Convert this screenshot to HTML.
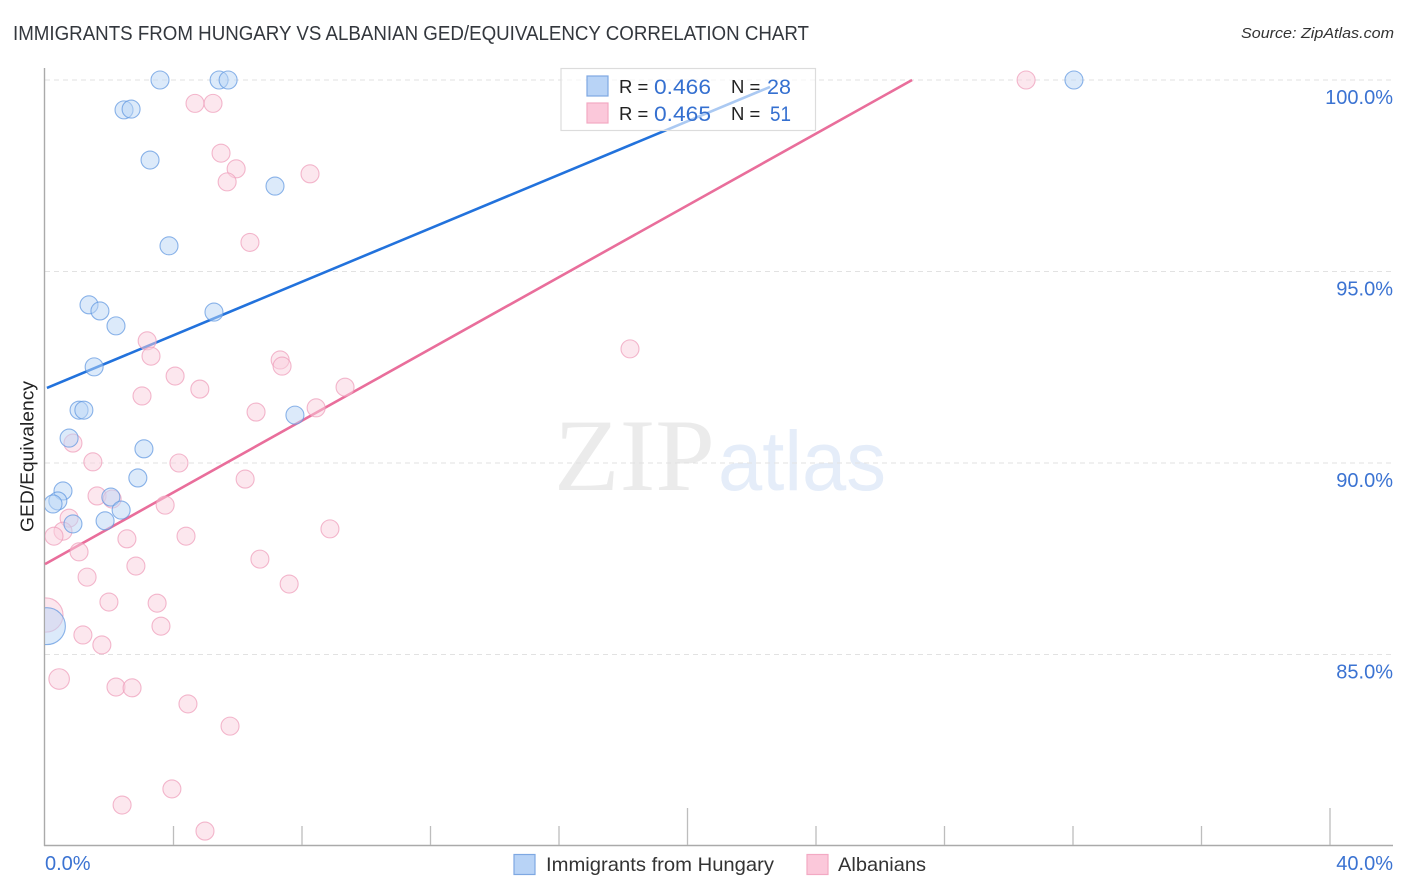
<!DOCTYPE html>
<html lang="en">
<head>
<meta charset="utf-8">
<title>Immigrants from Hungary vs Albanian GED/Equivalency Correlation Chart</title>
<style>
  html, body { margin: 0; padding: 0; background: #fff; }
  body { width: 1406px; height: 892px; overflow: hidden; }
  svg { display: block; font-family: "Liberation Sans", sans-serif; }
</style>
</head>
<body>
<svg id="chart" xmlns="http://www.w3.org/2000/svg" width="1406" height="892" viewBox="0 0 1406 892">
  <rect x="0" y="0" width="1406" height="892" fill="#ffffff"/>
  <text x="13" y="40" font-size="20" fill="#33373d" textLength="796" lengthAdjust="spacingAndGlyphs">IMMIGRANTS FROM HUNGARY VS ALBANIAN GED/EQUIVALENCY CORRELATION CHART</text>
  <text x="1394" y="38" font-size="15" font-style="italic" fill="#333" text-anchor="end" textLength="153" lengthAdjust="spacingAndGlyphs">Source: ZipAtlas.com</text>

  <g>
    <text x="554" y="490" font-family="'Liberation Serif', serif" font-size="103" fill="#ebebeb" textLength="161" lengthAdjust="spacingAndGlyphs">ZIP</text>
    <text x="718" y="490" font-size="84" fill="#e5edf9" textLength="168" lengthAdjust="spacingAndGlyphs">atlas</text>
  </g>

  <defs>
    <clipPath id="plot-clip"><rect x="45" y="60" width="1350" height="785"/></clipPath>
  </defs>
  <g id="grid"></g>
  <g id="axes"></g>
  <g id="trends"></g>
  <g id="points" clip-path="url(#plot-clip)"></g>

  <rect x="561" y="68.5" width="254.5" height="62" fill="#ffffff" fill-opacity="0.62" stroke="#dcdcdc" stroke-width="1.2"/>
  <g font-size="20">
    <rect x="587" y="76" width="21" height="20" fill="#b8d3f6" stroke="#7ea8e2" stroke-width="1.2"/>
    <rect x="587" y="103" width="21" height="20" fill="#fbc8da" stroke="#f3a9c3" stroke-width="1.2"/>
    <text x="619" y="93" font-size="18.5" fill="#222">R =</text>
    <text x="654" y="94" font-size="21" fill="#3570d0" textLength="57" lengthAdjust="spacingAndGlyphs">0.466</text>
    <text x="731" y="93" font-size="18.5" fill="#222">N =</text>
    <text x="767" y="94" font-size="21" fill="#3570d0" textLength="24" lengthAdjust="spacingAndGlyphs">28</text>
    <text x="619" y="120" font-size="18.5" fill="#222">R =</text>
    <text x="654" y="121" font-size="21" fill="#3570d0" textLength="57" lengthAdjust="spacingAndGlyphs">0.465</text>
    <text x="731" y="120" font-size="18.5" fill="#222">N =</text>
    <text x="770" y="121" font-size="21" fill="#3570d0" textLength="21" lengthAdjust="spacingAndGlyphs">51</text>
  </g>

  <text transform="translate(33.5,532) rotate(-90)" font-size="18.5" fill="#222" textLength="151" lengthAdjust="spacingAndGlyphs">GED/Equivalency</text>

  <g>
    <g>
      <rect x="514" y="854.5" width="21" height="20" fill="#b8d3f6" stroke="#7ea8e2" stroke-width="1.2"/>
      <text x="546" y="871" font-size="19.5" fill="#333" textLength="228" lengthAdjust="spacingAndGlyphs">Immigrants from Hungary</text>
    </g>
    <g>
      <rect x="807" y="854.5" width="21" height="20" fill="#fbc8da" stroke="#f3a9c3" stroke-width="1.2"/>
      <text x="838" y="871" font-size="19.5" fill="#333" textLength="88" lengthAdjust="spacingAndGlyphs">Albanians</text>
    </g>
  </g>
</svg>
<script>
// Chart data
const hungaryX = [3.58,5.42,5.70,2.46,2.68,3.27,7.16,3.86,1.37,1.71,2.21,5.26,1.53,1.06,1.21,7.78,0.75,3.08,2.89,0.56,0.40,0.25,2.05,2.37,1.87,0.87,32.03,0.06];
const hungaryY = [100,100,100,99.22,99.24,97.91,97.23,95.67,94.13,93.97,93.58,93.94,92.51,91.38,91.38,91.25,90.65,90.37,89.61,89.27,89.01,88.93,89.11,88.77,88.49,88.41,100,85.74];
const hungaryWeight = [1,1,1,1,1,1,1,1,1,1,1,1,1,1,1,1,1,1,1,1,1,1,1,1,1,1,1,4.2];
const albanianX = [4.67,5.23,5.48,5.95,5.67,8.25,6.38,3.18,3.30,7.32,7.38,4.05,4.82,3.02,6.57,8.44,9.34,18.21,0.87,1.49,4.17,6.23,1.62,2.09,3.74,0.75,0.56,0.28,8.87,2.55,4.39,1.06,6.69,2.83,1.31,7.60,1.99,3.49,3.61,1.18,1.77,0.44,2.21,2.71,4.45,5.76,3.95,2.40,4.98,30.54,0.03];
const albanianY = [99.39,99.39,98.09,97.68,97.34,97.55,95.76,93.19,92.79,92.69,92.53,92.27,91.93,91.75,91.33,91.44,91.98,92.98,90.52,90.03,90.00,89.58,89.14,89.06,88.90,88.56,88.22,88.09,88.28,88.02,88.09,87.68,87.49,87.31,87.02,86.84,86.37,86.34,85.74,85.51,85.25,84.36,84.15,84.13,83.71,83.13,81.49,81.07,80.39,100,86.03];
const albanianWeight = [1,1,1,1,1,1,1,1,1,1,1,1,1,1,1,1,1,1,1,1,1,1,1,1,1,1,1,1,1,1,1,1,1,1,1,1,1,1,1,1,1,1.3,1,1,1,1,1,1,1,1,3.6];
const hungaryTrendX = [0.06,22.57];
const hungaryTrendY = [91.96,99.82];
const albanianTrendX = [0,26.99];
const albanianTrendY = [87.36,100];
const yTicks = [100,95,90,85];
const yTickLabels = ['100.0%','95.0%','90.0%','85.0%'];
const xTicks = [0,4,8,12,16,20,24,28,32,36,40];
const xMajorTicks = [0,20,40];
const xEdgeTicks = [0,40];
const xEdgeLabels = ['0.0%','40.0%'];

// Axis functions
const xScale = v => 45 + (v / 40) * 1285;
const yScale = v => 80 + (100 - v) * 38.3;
const NS = 'http://www.w3.org/2000/svg';
function make(tag, parent, attrs) {
  const el = document.createElementNS(NS, tag);
  for (const k in attrs) el.setAttribute(k, attrs[k]);
  document.getElementById(parent).appendChild(el);
  return el;
}

yTicks.forEach((t, i) => {
  const line = make('line', 'grid', {x1: 45, x2: 1393, y1: yScale(t), y2: yScale(t), stroke: '#e2e2e2', 'stroke-width': 1, 'stroke-dasharray': '5 4'});
  
  
  const label = make('text', 'axes', {x: 1393, y: yScale(t) + 24, 'font-size': 20, fill: '#3b73d2', 'text-anchor': 'end'});
  label.textContent = yTickLabels[i];
  
  
});

const yAxis = make('line', 'axes', {x1: 44.5, x2: 44.5, y1: 68, y2: 846, stroke: '#aaaaaa', 'stroke-width': 1.4});


const xAxis = make('line', 'axes', {x1: 44, x2: 1393, y1: 845.5, y2: 845.5, stroke: '#aaaaaa', 'stroke-width': 1.4});



xTicks.forEach(t => {
  if (t === 0) return;
  const major = xMajorTicks.includes(t);
  const tick = make('line', 'axes', {x1: xScale(t), x2: xScale(t), y1: major ? 808 : 826, y2: 845, stroke: '#bdbdbd', 'stroke-width': 1.3});
  
  
});

xEdgeTicks.forEach((t, i) => {
  const label = make('text', 'axes', {x: i === 0 ? xScale(t) : 1393, y: 870, 'font-size': 20, fill: '#3b73d2', 'text-anchor': i === 0 ? 'start' : 'end'});
  label.textContent = xEdgeLabels[i];
  
  
});

function drawSeries(xs, ys, weights, fill, stroke) {
  xs.forEach((x, i) => {
    const c = make('circle', 'points', {cx: xScale(x), cy: yScale(ys[i]), r: 9 * Math.sqrt(weights[i]), fill: fill, 'fill-opacity': 0.5, stroke: stroke, 'stroke-opacity': 0.72, 'stroke-width': 1.1});
    
    
  });
}
drawSeries(albanianX, albanianY, albanianWeight, '#fad0de', '#ee9dba');
drawSeries(hungaryX, hungaryY, hungaryWeight, '#bad5f5', '#5f97e0');

const hungaryTrend = make('line', 'trends', {x1: xScale(hungaryTrendX[0]), y1: yScale(hungaryTrendY[0]), x2: xScale(hungaryTrendX[1]), y2: yScale(hungaryTrendY[1]), stroke: '#2272dc', 'stroke-width': 2.6});


const albanianTrend = make('line', 'trends', {x1: xScale(albanianTrendX[0]), y1: yScale(albanianTrendY[0]), x2: xScale(albanianTrendX[1]), y2: yScale(albanianTrendY[1]), stroke: '#e96e9b', 'stroke-width': 2.6});


</script>
</body>
</html>
